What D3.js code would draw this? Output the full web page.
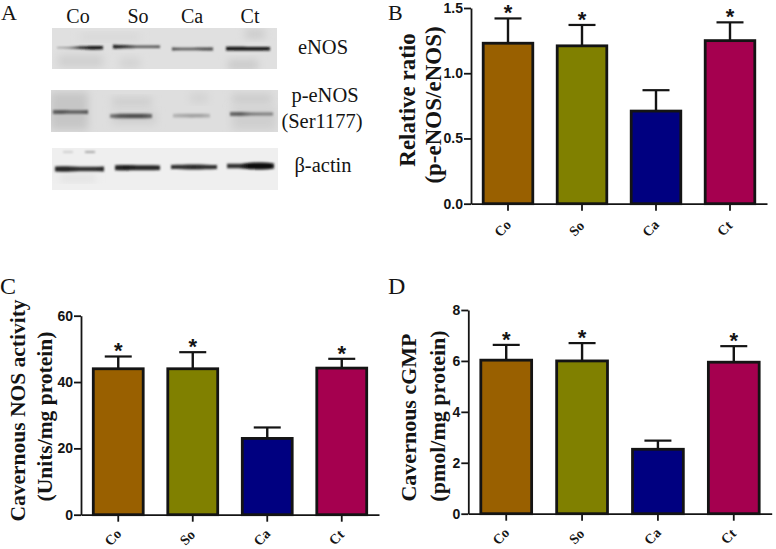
<!DOCTYPE html>
<html><head><meta charset="utf-8">
<script src="https://cdn.jsdelivr.net/npm/d3@7/dist/d3.min.js"></script>
<style>html,body{margin:0;padding:0;background:#fff}svg{display:block}</style></head>
<body><svg id="c" width="776" height="549"></svg>
<script>
const categories = ["Co","So","Ca","Ct"];
const barColors = ["#996000","#808000","#000080","#a5004f"];
const valuesB = [1.23,1.21,0.71,1.25];
const upperB = [1.42,1.37,0.87,1.39];
const starsB = [1,1,0,1];
const ticksB = [0,0.5,1,1.5];
const valuesC = [44,44,23,44.2];
const upperC = [47.7,49,26.3,47];
const starsC = [1,1,0,1];
const ticksC = [0,20,40,60];
const valuesD = [6.03,6.0,2.53,5.95];
const upperD = [6.63,6.7,2.87,6.58];
const starsD = [1,1,0,1];
const ticksD = [0,2,4,6,8];
const blotNames = ["eNOS","p-eNOS","(Ser1177)","β-actin"];
// band density and thickness profile, lane by lane
const bandENOS = [[.25,.4,.8,1,.95],[.95,.8,.6,.6,.65],[.7,.6,.6,.65,.7],[.95,1,1,1,.95]];
const thickENOS = [[1.2,1.4,2.8,3.6,3.2],[3.8,3.2,2.4,2.4,2.6],[3,2.6,2.6,2.8,2.8],[3.8,3.8,3.6,3.6,3.6]];
const bandPENOS = [[.55,.6,.55,.55,.6],[.4,.6,.65,.65,.5],[.1,.16,.2,.2,.1],[.5,.55,.42,.38,.38]];
const thickPENOS = [[4,4,3.6,3.6,4],[3.4,4.6,4.6,4.6,4],[3.4,3.8,4,3.8,3.4],[4,3.8,3,2.8,2.8]];
const bandActin = [[.85,.85,.8,.8,.85],[.85,.9,.85,.85,.85],[.8,.8,.85,.8,.8],[.8,.8,1,1,.95]];
const thickActin = [[5,5.4,4.6,4.6,5],[5,5.4,5,5,4.6],[4,4.4,5,4.6,4],[4.4,4.4,6.6,7,5]];

const svg = d3.select("#c");
const defs = svg.append("defs");
defs.append("filter").attr("id","blur").attr("x","-20%").attr("y","-200%").attr("width","140%").attr("height","500%")
  .append("feGaussianBlur").attr("stdDeviation","1 0.8");
defs.append("filter").attr("id","soft").attr("x","-50%").attr("y","-50%").attr("width","200%").attr("height","200%")
  .append("feGaussianBlur").attr("stdDeviation","4");
const SERIF = "'Liberation Serif','Times New Roman',serif";
const SANS = "'Liberation Sans',Arial,sans-serif";
const INK = "#141414";

function panel(o){
  const g = svg.append("g");
  const x = d3.scaleBand().domain(categories).range([o.x0,o.x1]).paddingInner(0.33).paddingOuter(0.165);
  const y = d3.scaleLinear().domain([0,o.top]).range([o.y0,o.y1]);
  const bw = x.bandwidth();
  const cx = c => x(c)+bw/2;
  const rows = categories.map((c,i)=>({c,v:o.values[i],u:o.upper[i],s:o.stars[i],col:barColors[i]}));
  g.selectAll(".err").data(rows).join("line").attr("class","err")
    .attr("x1",d=>cx(d.c)).attr("x2",d=>cx(d.c)).attr("y1",d=>y(d.v)).attr("y2",d=>y(d.u))
    .attr("stroke",INK).attr("stroke-width",2.4);
  g.selectAll(".cap").data(rows).join("line").attr("class","cap")
    .attr("x1",d=>cx(d.c)-13.5).attr("x2",d=>cx(d.c)+13.5).attr("y1",d=>y(d.u)).attr("y2",d=>y(d.u))
    .attr("stroke",INK).attr("stroke-width",2.2);
  g.selectAll(".bar").data(rows).join("rect").attr("class","bar")
    .attr("x",d=>x(d.c)).attr("width",bw)
    .attr("y",d=>y(d.v)).attr("height",d=>o.y0-y(d.v))
    .attr("fill",d=>d.col).attr("stroke",INK).attr("stroke-width",2.8);
  g.selectAll(".star").data(rows.filter(d=>d.s)).join("text").attr("class","star")
    .attr("x",d=>cx(d.c)).attr("y",d=>y(d.u)+2)
    .attr("text-anchor","middle").attr("font-family",SANS).attr("font-weight","700").attr("font-size",22)
    .attr("fill",INK).text("*");
  const ay = g.append("g").attr("transform",`translate(${o.x0},0)`)
    .call(d3.axisLeft(y).tickValues(o.ticks).tickSize(7).tickSizeOuter(0).tickFormat(o.fmt));
  const ax = g.append("g").attr("transform",`translate(0,${o.y0})`)
    .call(d3.axisBottom(x).tickSize(7).tickSizeOuter(0));
  [ay,ax].forEach(a=>{
    a.selectAll("path,line").attr("stroke",INK).attr("stroke-width",1.8);
    a.select(".domain").attr("fill","none");
  });
  ay.selectAll("text").attr("font-family",SANS).attr("font-weight","700").attr("font-size",14).attr("fill",INK).attr("x",-8);
  ax.selectAll("text").attr("font-family",SERIF).attr("font-weight","700").attr("font-size",14).attr("fill",INK)
    .attr("text-anchor","middle").attr("dy",null).attr("y",null)
    .attr("transform",`translate(-2,${o.labelDy}) rotate(-45)`);
  o.titles.forEach(t=>{
    g.append("text").attr("transform",`translate(${t[1]},${t[2]}) rotate(-90)`)
      .attr("text-anchor","middle").attr("dominant-baseline","central")
      .attr("font-family",SERIF).attr("font-weight","700").attr("font-size",o.titleSize).attr("fill",INK).text(t[0]);
  });
}

panel({x0:471,x1:767,y0:203.7,y1:8,top:1.5,values:valuesB,upper:upperB,stars:starsB,ticks:ticksB,fmt:d3.format(".1f"),labelDy:28,titleSize:23,
  titles:[["Relative ratio",407,100],["(p-eNOS/eNOS)",433,105]]});
panel({x0:81,x1:379,y0:514.7,y1:315.7,top:60,values:valuesC,upper:upperC,stars:starsC,ticks:ticksC,fmt:d3.format("d"),labelDy:26,titleSize:21.5,
  titles:[["Cavernous NOS activity",18,410.5],["(Units/mg protein)",45,416.5]]});
panel({x0:468.3,x1:771.7,y0:513.7,y1:310,top:8,values:valuesD,upper:upperD,stars:starsD,ticks:ticksD,fmt:d3.format("d"),labelDy:26,titleSize:22,
  titles:[["Cavernous cGMP",408,417.5],["(pmol/mg protein)",437,416]]});

[["A",1,20,22],["B",388,20,22],["C",0,294,24],["D",388,294,24]].forEach(l=>{
  svg.append("text").attr("x",l[1]).attr("y",l[2]).attr("font-family",SERIF).attr("font-size",l[3]).attr("fill",INK).text(l[0]);
});

// western blots
const shade = d3.scaleLinear().domain([0,1]).range(["#c8c8c8","#0a0a0a"]);
const blots = [
  {y:28,h:41,x:52,w:225,bg:"#e0e0e0",dens:bandENOS,thick:thickENOS,
   lanes:[[57,103,47.7],[113,160,46.7],[172,213,49],[226,270,48.7]],
   haze:[[58,55,45,12,"#cfcfcf"],[120,58,20,10,"#d2d2d2"],[228,60,30,10,"#c9c9c9"],[245,30,20,8,"#c8c8c8"],[80,34,60,6,"#d6d6d6"]]},
  {y:90,h:42,x:51,w:227,bg:"#dedede",dens:bandPENOS,thick:thickPENOS,
   lanes:[[53,88,112],[110,152,116],[173,210,115.7],[230,273,114]],
   haze:[[50,92,38,38,"#c6c6c6"],[112,98,40,8,"#cbcbcb"],[112,112,44,12,"#cfcfcf"],[232,94,40,10,"#cbcbcb"],[232,108,44,22,"#cfcfcf"],[190,94,18,8,"#d0d0d0"]]},
  {y:148,h:42,x:52,w:226,bg:"#efefef",dens:bandActin,thick:thickActin,
   lanes:[[55,104,169],[115,160,167.7],[171,217,167],[227,274,166]],
   haze:[[60,176,36,5,"#dcdcdc"],[85,151,10,2,"#a8a8a8"],[63,151,10,2,"#cfcfcf"]]}
];
const profile = [0,.25,.5,.75,1];
blots.forEach((b,k)=>{
  const g = svg.append("g");
  const clipId = "clip"+k;
  defs.append("clipPath").attr("id",clipId).append("rect").attr("x",b.x).attr("y",b.y).attr("width",b.w).attr("height",b.h);
  g.append("rect").attr("x",b.x).attr("y",b.y).attr("width",b.w).attr("height",b.h).attr("fill",b.bg);
  const inner = g.append("g").attr("clip-path",`url(#${clipId})`);
  b.haze.forEach((h,i)=>{
    inner.append("rect").attr("x",h[0]).attr("y",h[1]).attr("width",h[2]).attr("height",h[3]).attr("fill",h[4])
      .attr("filter", k===2 && i>0 ? "url(#blur)" : "url(#soft)");
  });
  categories.forEach((c,i)=>{
    const L = b.lanes[i];
    const tx = d3.scaleLinear().domain([0,1]).range([L[0],L[1]]);
    const gradId = `gr${k}${i}`;
    const gr = defs.append("linearGradient").attr("id",gradId);
    profile.forEach((p,j)=>gr.append("stop").attr("offset",p).attr("stop-color",shade(b.dens[i][j])));
    const area = d3.area().x(d=>tx(d.p)).y0(d=>L[2]-d.t/2).y1(d=>L[2]+d.t/2).curve(d3.curveMonotoneX);
    inner.append("path").attr("d",area(profile.map((p,j)=>({p,t:b.thick[i][j]}))))
      .attr("fill",`url(#${gradId})`).attr("filter","url(#blur)");
  });
});
const laneLabelX = [78,138,192,250];
categories.forEach((c,i)=>{
  svg.append("text").attr("x",laneLabelX[i]).attr("y",23).attr("text-anchor","middle")
    .attr("font-family",SERIF).attr("font-size",20).attr("fill",INK).text(c);
});
[[blotNames[0],323,54],[blotNames[1],325,102],[blotNames[2],322,127.7],[blotNames[3],323,172]].forEach(t=>{
  svg.append("text").attr("x",t[1]).attr("y",t[2]).attr("text-anchor","middle")
    .attr("font-family",SERIF).attr("font-size",20.5).attr("fill",INK).text(t[0]);
});
</script></body></html>
